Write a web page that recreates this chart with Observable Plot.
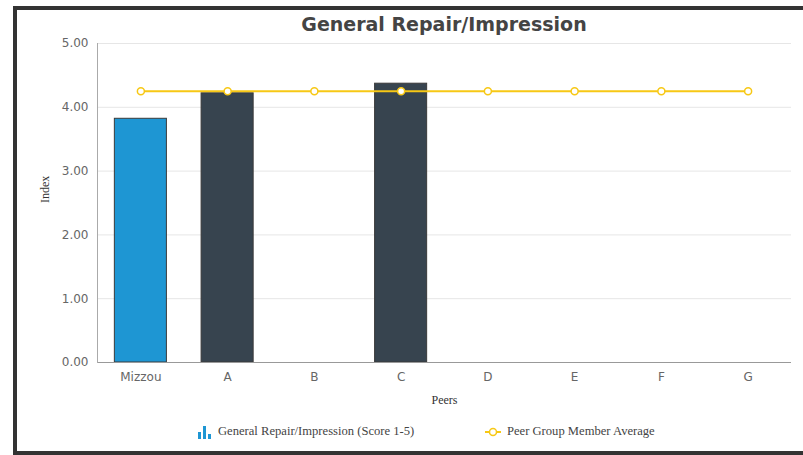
<!DOCTYPE html>
<html>
<head>
<meta charset="utf-8">
<script src="https://cdn.jsdelivr.net/npm/d3@7"></script>
<script src="https://cdn.jsdelivr.net/npm/@observablehq/plot@0.6"></script>
<style>
  html, body { margin: 0; padding: 0; background: #fff; }
  #wrap { position: relative; width: 803px; height: 455px; overflow: hidden; }
  #frame { position: absolute; left: 13px; top: 6px; width: 800px; height: 441px;
           border-left: 4px solid #333; border-top: 4px solid #333; border-bottom: 4px solid #333; }
  #title { position: absolute; left: 97px; width: 694px; top: 13px; text-align: center;
           font: bold 19px "DejaVu Sans", sans-serif; color: #444; }
  #chart { position: absolute; left: 0; top: 0; }
  #legend { position: absolute; top: 424px; left: 0; width: 803px; height: 18px;
            font: 12.6px "Liberation Serif", serif; color: #444; }
  .li { position: absolute; display: flex; align-items: center; gap: 6px; white-space: nowrap; }
</style>
</head>
<body>
<div id="wrap">
  <div id="frame"></div>
  <div id="chart"></div>
  <div id="title">General Repair/Impression</div>
  <div id="legend"></div>
</div>
<script>
const peers = ["Mizzou", "A", "B", "C", "D", "E", "F", "G"];
const scores = [3.82, 4.22, null, 4.37, null, null, null, null];
const peerAverage = [4.25, 4.25, 4.25, 4.25, 4.25, 4.25, 4.25, 4.25];
const yTicks = [0, 1, 2, 3, 4, 5];
const seriesNames = ["General Repair/Impression (Score 1-5)", "Peer Group Member Average"];

const barData = peers.map((p, i) => ({peer: p, value: scores[i]})).filter(d => d.value != null);
const avgData = peers.map((p, i) => ({peer: p, value: peerAverage[i]}));

const chart = Plot.plot({
  width: 803,
  height: 410,
  marginLeft: 97,
  marginRight: 12,
  marginTop: 43,
  marginBottom: 48,
  style: {fontFamily: "'DejaVu Sans', sans-serif", fontSize: "12px", color: "#666", background: "transparent"},
  x: {domain: peers, paddingInner: 0.4, paddingOuter: 0.2, round: false, label: null},
  y: {domain: [0, 5], label: null},
  marks: [
    Plot.gridY(yTicks, {stroke: "#e6e6e6", strokeOpacity: 1}),
    Plot.barY(barData, {x: "peer", y: "value",
      fill: d => d.peer === "Mizzou" ? "#1e96d3" : "#37444f",
      stroke: "#3a3a3a", strokeWidth: 1}),
    Plot.ruleY([0], {stroke: "#999"}),
    Plot.frame({anchor: "left", stroke: "#aaa"}),
    Plot.axisY(yTicks, {tickSize: 0, tickPadding: 9, tickFormat: d3.format(".2f"), fill: "#666", fontSize: 12, label: null}),
    Plot.axisX({tickSize: 0, tickPadding: 10, fill: "#666", fontSize: 12, label: null}),
    Plot.lineY(avgData, {x: "peer", y: "value", stroke: "#f7c815", strokeWidth: 2}),
    Plot.dot(avgData, {x: "peer", y: "value", r: 3.5, fill: "#fff", stroke: "#f7c815", strokeWidth: 1.5}),
    Plot.text(["Index"], {frameAnchor: "left", dx: -52, rotate: -90, fontFamily: "'Liberation Serif', serif", fontSize: 12, fill: "#333"}),
    Plot.text(["Peers"], {frameAnchor: "bottom", dy: 41, fontFamily: "'Liberation Serif', serif", fontSize: 12, fill: "#333"})
  ]
});
document.getElementById("chart").appendChild(chart);

const legend = document.getElementById("legend");
const barIcon = `<svg width="14" height="14" viewBox="0 0 14 14">
  <rect x="0" y="7" width="3" height="7" fill="#1e96d3"/>
  <rect x="5" y="1" width="3" height="13" fill="#1e96d3"/>
  <rect x="10" y="9" width="3" height="5" fill="#1e96d3"/></svg>`;
const lineIcon = `<svg width="16" height="10" viewBox="0 0 16 10">
  <line x1="0" y1="5" x2="16" y2="5" stroke="#f7c815" stroke-width="2"/>
  <circle cx="8" cy="5" r="3.5" fill="#fff" stroke="#f7c815" stroke-width="1.5"/></svg>`;
legend.innerHTML = `
  <div class="li" style="left:198px;top:0">${barIcon}<span>${seriesNames[0]}</span></div>
  <div class="li" style="left:485px;top:0">${lineIcon}<span>${seriesNames[1]}</span></div>`;
</script>
</body>
</html>
